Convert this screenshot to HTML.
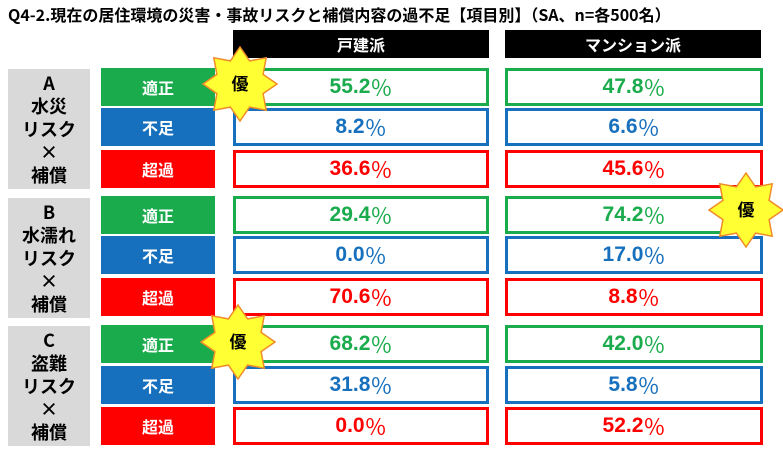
<!DOCTYPE html><html><head><meta charset="utf-8"><style>
body{margin:0;width:783px;height:450px;background:#fff;position:relative;overflow:hidden;font-family:"Liberation Sans","Noto Sans CJK JP",sans-serif;font-weight:bold}
div{position:absolute;box-sizing:border-box}
.t{left:8px;top:2px;font-size:16px;color:#000;white-space:nowrap;font-family:"Noto Sans CJK JP",sans-serif}
.h{background:#000;color:#fff;font-size:16px;text-align:center;line-height:28px;top:30px;height:28px;font-family:"Noto Sans CJK JP",sans-serif}
.g{left:8px;width:82px;background:#d9d9d9;font-size:18px;text-align:center;display:flex;align-items:center;justify-content:center;line-height:23px;font-family:"Noto Sans CJK JP",sans-serif}
.l{left:101px;width:114px;color:#fff;font-size:16px;text-align:center;display:flex;align-items:center;justify-content:center;font-family:"Noto Sans CJK JP",sans-serif}
.v{border:3px solid;font-size:21px;text-align:center;display:flex;align-items:center;justify-content:center;background:#fff}
.v span{font-family:"Noto Sans CJK JP",sans-serif;font-weight:normal;font-size:22px}
.G{border-color:#1aab4c;color:#1aab4c}.B{border-color:#1670bd;color:#1670bd}.R{border-color:#ff0000;color:#ff0000}
.star{width:76px;height:76px}
</style></head><body>
<div class="t">Q4-2.現在の居住環境の災害・事故リスクと補償内容の過不足【項目別】（SA、n=各500名）</div>
<div class="h" style="left:233px;width:256px">戸建派</div>
<div class="h" style="left:505px;width:256px">マンション派</div>
<div class="g" style="top:69px;height:120px">A<br>水災<br>リスク<br>×<br>補償</div>
<div class="g" style="top:198px;height:120px">B<br>水濡れ<br>リスク<br>×<br>補償</div>
<div class="g" style="top:326px;height:120px">C<br>盗難<br>リスク<br>×<br>補償</div>
<script>
var rows=[[68,'G','適正','55.2','47.8'],[108,'B','不足','8.2','6.6'],[150,'R','超過','36.6','45.6'],[196,'G','適正','29.4','74.2'],[236,'B','不足','0.0','17.0'],[278,'R','超過','70.6','8.8'],[325,'G','適正','68.2','42.0'],[366,'B','不足','31.8','5.8'],[407,'R','超過','0.0','52.2']];
var bg={G:'#1aab4c',B:'#1670bd',R:'#ff0000'};
rows.forEach(function(r){
document.write('<div class="l" style="top:'+r[0]+'px;height:38px;background:'+bg[r[1]]+'">'+r[2]+'</div>');
document.write('<div class="v '+r[1]+'" style="left:233px;width:256px;top:'+r[0]+'px;height:38px">'+r[3]+'<span>％</span></div>');
document.write('<div class="v '+r[1]+'" style="left:505px;width:258px;top:'+r[0]+'px;height:38px">'+r[4]+'<span>％</span></div>');
});
function star(cx,cy){var p=[];for(var i=0;i<16;i++){var a=Math.PI*2*i/16-Math.PI/2,rr=i%2?25:37;p.push((38+rr*Math.cos(a)).toFixed(1)+','+(38+rr*Math.sin(a)).toFixed(1));}
document.write('<div class="star" style="left:'+(cx-38)+'px;top:'+(cy-38)+'px"><svg width="76" height="76"><polygon points="'+p.join(' ')+'" fill="#ffff33" stroke="#f08c28" stroke-width="1.5"/><text x="38" y="44" text-anchor="middle" font-size="17" font-weight="bold" font-family="Noto Sans CJK JP,sans-serif">優</text></svg></div>');}
star(240,84);star(746,210);star(238,342);
</script>
</body></html>
